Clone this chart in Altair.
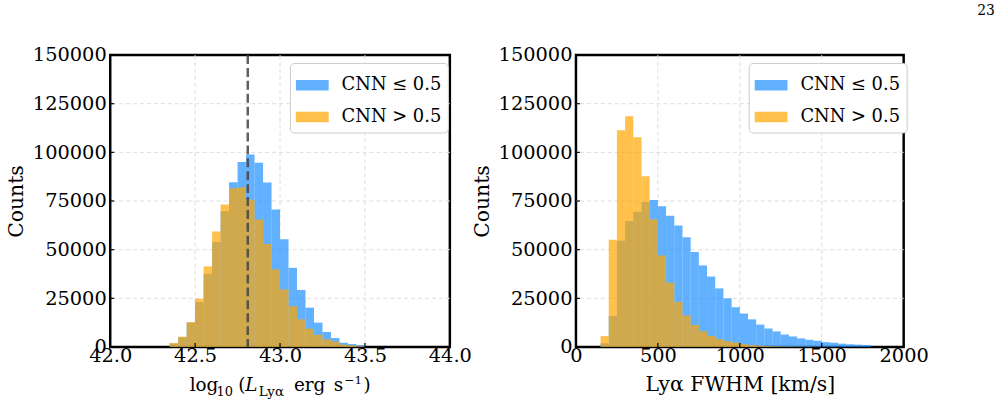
import altair as alt
import pandas as pd

# ---- Lyα luminosity histogram (bin width 0.05 dex) ----
LUM_BIN_START = [42.35, 42.40, 42.45, 42.50, 42.55, 42.60, 42.65, 42.70, 42.75, 42.80,
                 42.85, 42.90, 42.95, 43.00, 43.05, 43.10, 43.15, 43.20, 43.25, 43.30,
                 43.35, 43.40, 43.45]
LUM_WIDTH = 0.05
LUM_LOW = [1800, 5000, 12500, 23100, 37600, 53900, 69800, 84700, 95000, 98900,
           94600, 84500, 70700, 55300, 40700, 29300, 20200, 12500, 7700, 4600,
           2200, 1500, 800]
LUM_HIGH = [2000, 5300, 12800, 24800, 41400, 59400, 73200, 81600, 82100, 75600,
            65500, 52900, 39900, 29600, 21000, 14200, 9400, 6300, 3900, 2800,
            1200, 800, 300]
LUM_CUT = 42.81
LUM_TICKS = [42.0, 42.5, 43.0, 43.5, 44.0]

# ---- Lyα FWHM histogram (bin width 50 km/s) ----
FWHM_BIN_START = [150, 200, 250, 300, 350, 400, 450, 500, 550, 600, 650, 700, 750,
                  800, 850, 900, 950, 1000, 1050, 1100, 1150, 1200, 1250, 1300, 1350,
                  1400, 1450, 1500, 1550, 1600, 1650, 1700, 1750]
FWHM_WIDTH = 50
FWHM_LOW = [1900, 15900, 54600, 64700, 69500, 74500, 75500, 72300, 67400, 62400,
            56400, 48800, 41900, 36200, 30100, 25000, 20400, 17200, 14200, 11500,
            9500, 8000, 6400, 5400, 4400, 3700, 3200, 2500, 2200, 1700, 1400, 1200, 1000]
FWHM_HIGH = [5600, 55100, 111400, 118500, 107800, 87700, 65600, 47000, 33100, 23200,
             16200, 11300, 8100, 5700, 4100, 3000, 2300, 1500, 1000, 700,
             400, 300, 200, 150, 100, 80, 60, 40, 30, 20, 10, 10, 0]
FWHM_TICKS = [0, 500, 1000, 1500, 2000]

COUNT_TICKS = [0, 25000, 50000, 75000, 100000, 125000, 150000]
GROUPS = ["CNN ≤ 0.5", "CNN > 0.5"]
COLORS = ["#1E90FF", "#FFA500"]

FONT = "DejaVu Serif"
H = 294
GRID = dict(color="#dddddd", strokeWidth=1, strokeDash=[4, 3])


def hist_frame(starts, width, low, high):
    rows = []
    for s, lo, hi in zip(starts, low, high):
        rows.append({"start": s, "end": s + width, "count": lo, "base": 0, "group": GROUPS[0]})
        rows.append({"start": s, "end": s + width, "count": hi, "base": 0, "group": GROUPS[1]})
    return pd.DataFrame(rows)


def one_row():
    return alt.Chart(pd.DataFrame({"k": [0]}))


def panel(df, xdomain, xticks, xfmt, xtitle, width, legend_x, extras):
    x_enc = alt.X(
        "start:Q",
        scale=alt.Scale(domain=xdomain, nice=False, zero=False),
        axis=alt.Axis(values=xticks, format=xfmt, title=xtitle, labelPadding=0,
                      titlePadding=9, labelOverlap=False, labelFlush=False),
    )
    y_enc = alt.Y(
        "count:Q",
        scale=alt.Scale(domain=[0, 150000], nice=False),
        axis=alt.Axis(values=COUNT_TICKS, format="d", title="Counts", labelPadding=4,
                      titlePadding=6, labelOverlap=False),
    )
    color = alt.Color(
        "group:N",
        scale=alt.Scale(domain=GROUPS, range=COLORS),
        legend=alt.Legend(
            orient="none", legendX=legend_x, legendY=8, title=None,
            symbolType="M-1,-0.32H1V0.32H-1Z", symbolSize=1089,
            symbolOpacity=0.7, symbolStrokeWidth=0,
            labelFont=FONT, labelFontSize=18, labelColor="black", labelOffset=13,
            padding=6, rowPadding=6, strokeColor="#cccccc", cornerRadius=4,
            fillColor="white",
        ),
    )

    # dashed grid lines on the interior tick positions
    xgrid = alt.Chart(pd.DataFrame({"start": xticks[1:-1]})).mark_rule(**GRID).encode(x=x_enc)
    ygrid = alt.Chart(pd.DataFrame({"count": COUNT_TICKS[1:-1]})).mark_rule(**GRID).encode(y=y_enc)

    base = alt.Chart(df)
    low = base.transform_filter(alt.datum.group == GROUPS[0]).mark_rect(opacity=0.7).encode(
        x=x_enc, x2="end:Q", y=y_enc, y2="base:Q", color=color)
    high = base.transform_filter(alt.datum.group == GROUPS[1]).mark_rect(opacity=0.7).encode(
        x=x_enc, x2="end:Q", y=y_enc, y2="base:Q", color=color)

    # inward tick marks on bottom and left edges
    xt = alt.Chart(pd.DataFrame({"start": xticks})).mark_rule(
        color="black", strokeWidth=1.2).encode(
        x=x_enc, y=alt.value(H), y2=alt.value(H - 4))
    yt = alt.Chart(pd.DataFrame({"count": COUNT_TICKS})).mark_rule(
        color="black", strokeWidth=1.2).encode(
        y=y_enc, x=alt.value(0), x2=alt.value(4))

    layers = [xgrid, ygrid, low, high] + [e(x_enc) for e in extras] + [xt, yt]
    return alt.layer(*layers).properties(width=width, height=H)


def cut_line(x_enc):
    return alt.Chart(pd.DataFrame({"start": [LUM_CUT]})).mark_rule(
        color="#444444", opacity=0.85, strokeWidth=2.5, strokeDash=[9, 4]).encode(x=x_enc)


def text_piece(txt, px, py, size, style="normal"):
    def make(_x_enc):
        return one_row().mark_text(
            text=txt, align="left", baseline="alphabetic", font=FONT,
            fontSize=size, fontStyle=style, color="black").encode(
            x=alt.value(px), y=alt.value(py))
    return make


# log10(L_Lyα erg s^-1) axis label built from pieces
lum_title = [
    text_piece("log", 80, 338, 18.5),
    text_piece("10", 107, 343, 13),
    text_piece("(", 129, 338, 18.5),
    text_piece("L", 136, 338, 18.5, "italic"),
    text_piece("Lyα", 149.5, 343, 13.5),
    text_piece("erg", 185, 338, 18.5),
    text_piece("s", 225, 338, 18.5),
    text_piece("−1", 236, 331, 12),
    text_piece(")", 255, 338, 18.5),
]

page_no = text_piece("23", 404, -40, 14)

left = panel(hist_frame(LUM_BIN_START, LUM_WIDTH, LUM_LOW, LUM_HIGH),
             [42.0, 44.0], LUM_TICKS, ".1f", None, 342, 181,
             [cut_line] + lum_title)
right = panel(hist_frame(FWHM_BIN_START, FWHM_WIDTH, FWHM_LOW, FWHM_HIGH),
              [0, 2000], FWHM_TICKS, "d", "Lyα FWHM [km/s]", 330, 174,
              [page_no])

chart = (
    alt.hconcat(left, right, spacing=127, bounds="flush")
    .resolve_scale(x="independent", y="independent", color="independent")
    .properties(padding={"left": 5, "top": 1, "right": 1, "bottom": 5})
    .configure(font=FONT)
    .configure_view(stroke="black", strokeWidth=2.5)
    .configure_axis(
        domain=False, ticks=False, grid=False, labelFont=FONT, titleFont=FONT,
        labelFontSize=19.5, labelColor="black", titleFontSize=20.5,
        titleFontWeight="normal", titleColor="black",
    )
)

chart.save("out.html", embed_options={"renderer": "svg", "actions": False})
